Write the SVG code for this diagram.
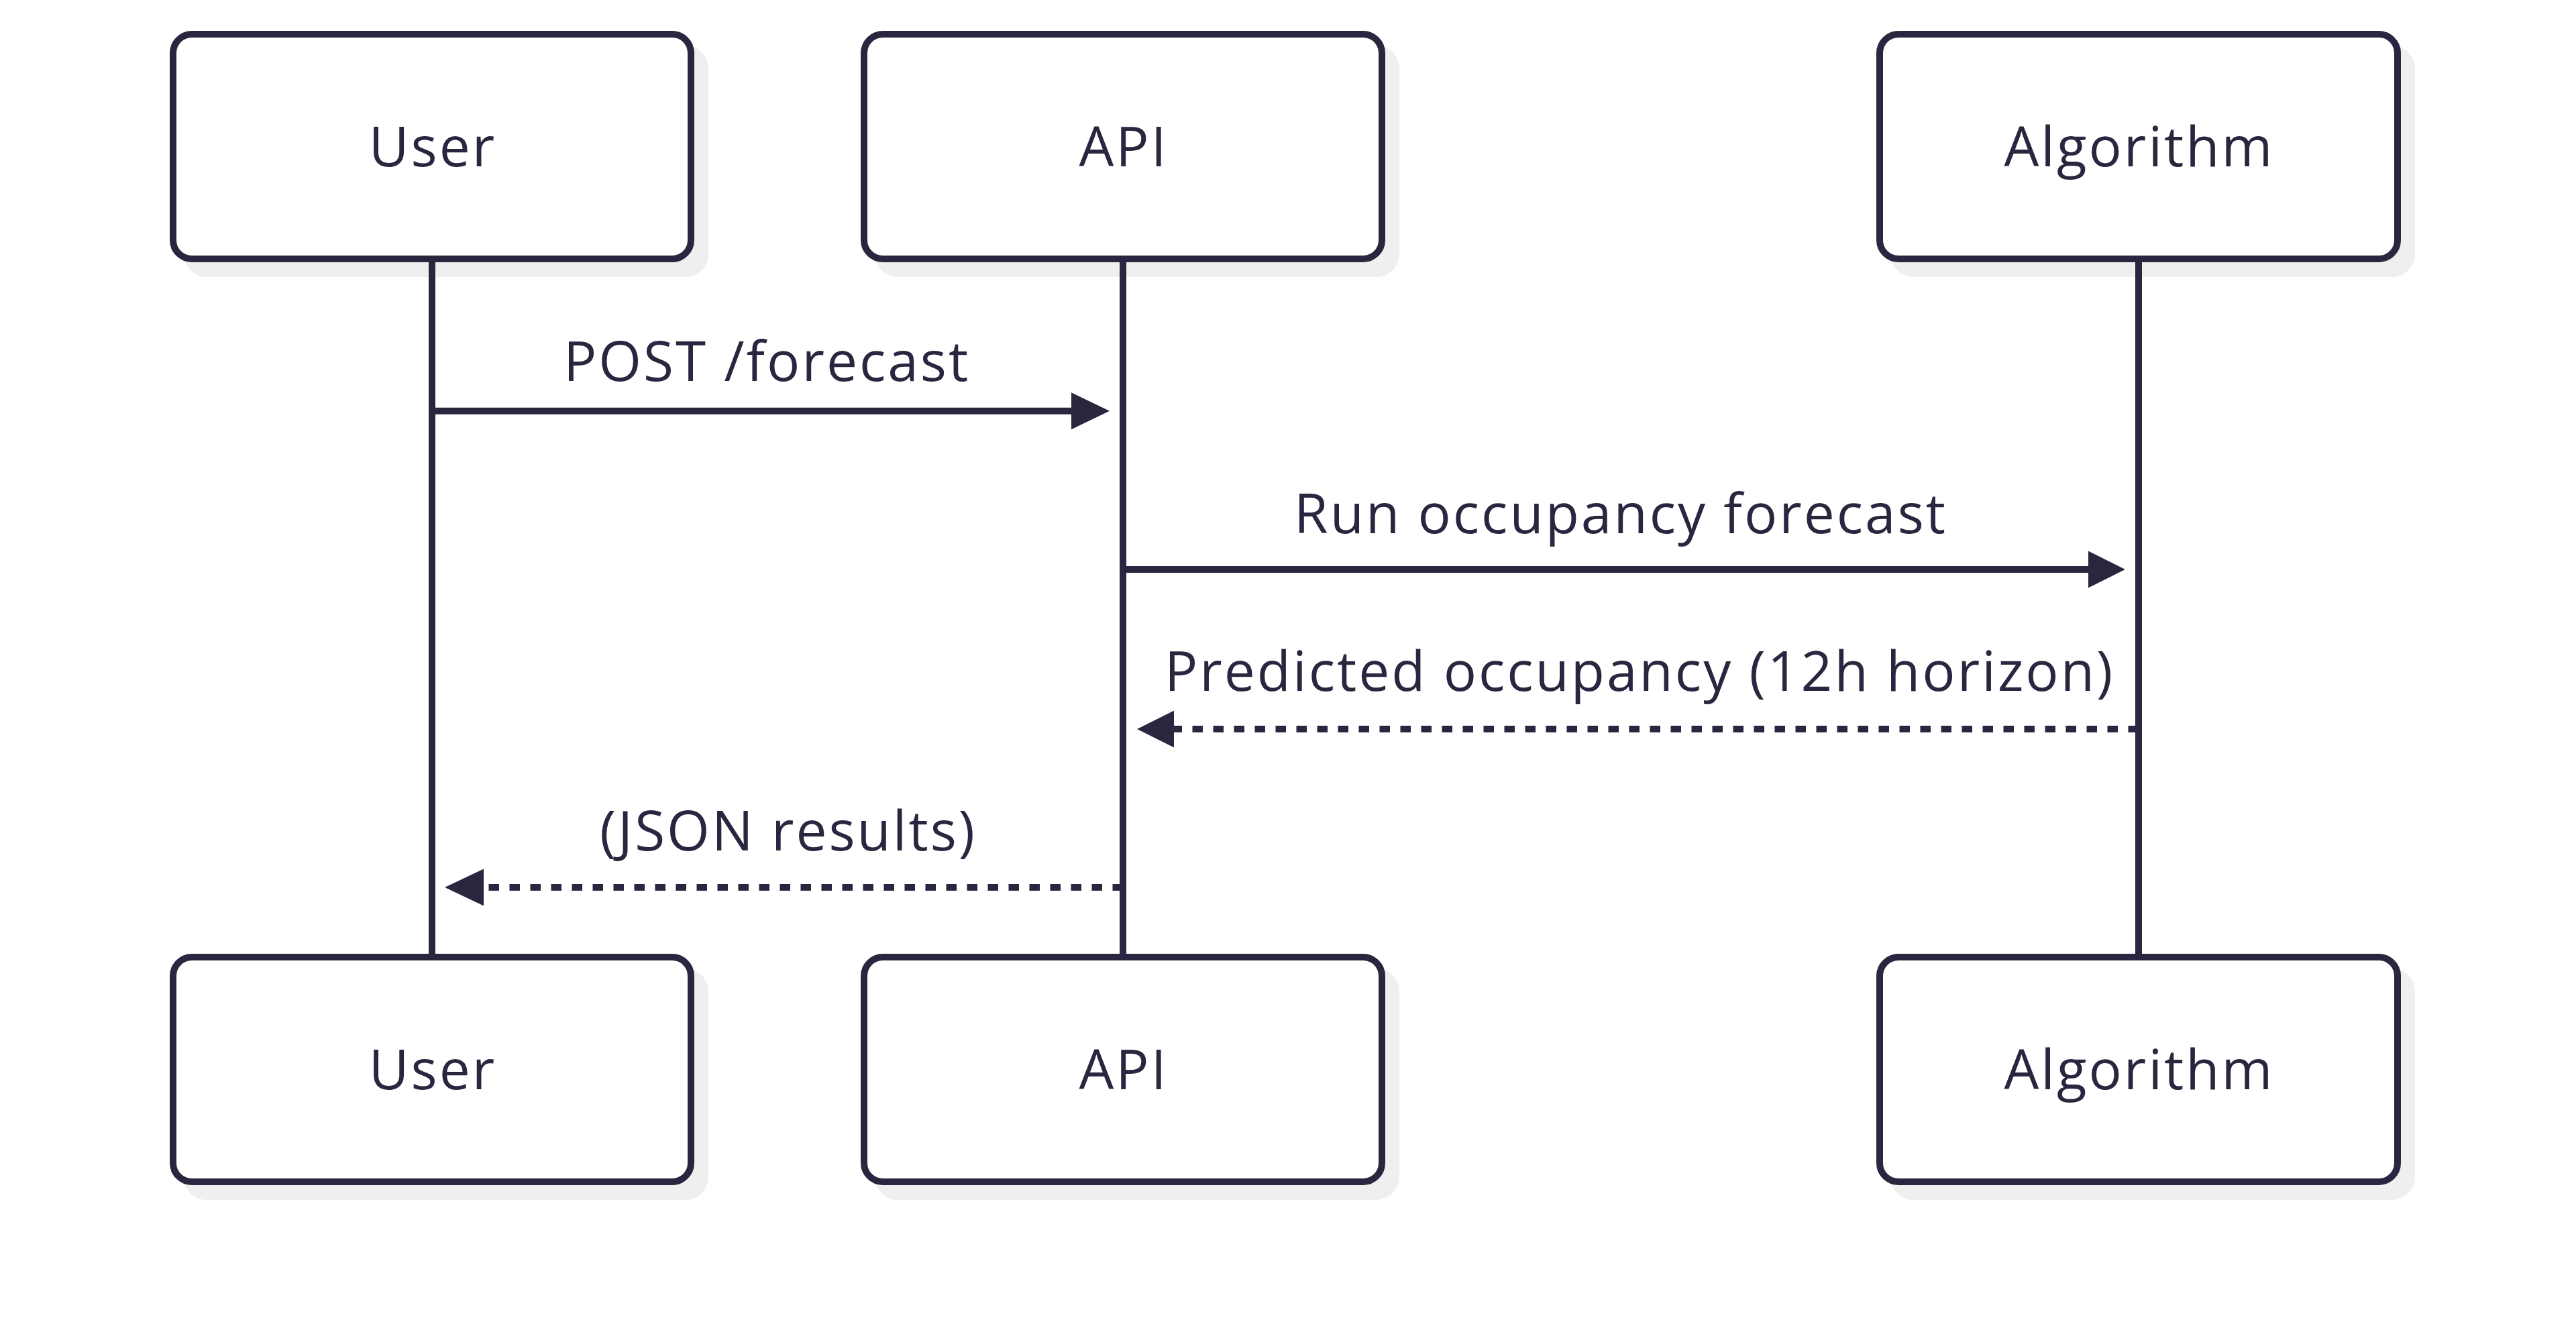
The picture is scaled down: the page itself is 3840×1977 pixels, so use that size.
<svg xmlns="http://www.w3.org/2000/svg" width="3840" height="1977" viewBox="0 0 3840 1977">
<style>
.shadow{fill:#efefef;stroke:none}
.box{fill:#ffffff;stroke:#28273f;stroke-width:10}
.life{stroke:#28273f;stroke-width:10;fill:none}
.msg{stroke:#28273f;stroke-width:10;fill:none}
.dot{stroke-dasharray:15.5 15.5}
.head{fill:#28273f;stroke:none}
text{font-family:"Open Sans","DejaVu Sans",sans-serif;font-size:82px;letter-spacing:3px;fill:#28273f;text-anchor:middle}
</style>
<rect width="3840" height="1977" fill="#ffffff"/>
<g id="user-top">
<rect class="shadow" x="274" y="68" width="782" height="345" rx="34"/>
<rect class="box" x="258" y="51" width="772" height="335" rx="28"/>
<text x="645" y="248">User</text>
</g>
<g id="api-top">
<rect class="shadow" x="1304" y="68" width="782" height="345" rx="34"/>
<rect class="box" x="1288" y="51" width="772" height="335" rx="28"/>
<text x="1675" y="248">API</text>
</g>
<g id="algorithm-top">
<rect class="shadow" x="2818" y="68" width="782" height="345" rx="34"/>
<rect class="box" x="2802" y="51" width="772" height="335" rx="28"/>
<text x="3189" y="248">Algorithm</text>
</g>
<g id="user-bottom">
<rect class="shadow" x="274" y="1444" width="782" height="345" rx="34"/>
<rect class="box" x="258" y="1427" width="772" height="335" rx="28"/>
<text x="645" y="1624">User</text>
</g>
<g id="api-bottom">
<rect class="shadow" x="1304" y="1444" width="782" height="345" rx="34"/>
<rect class="box" x="1288" y="1427" width="772" height="335" rx="28"/>
<text x="1675" y="1624">API</text>
</g>
<g id="algorithm-bottom">
<rect class="shadow" x="2818" y="1444" width="782" height="345" rx="34"/>
<rect class="box" x="2802" y="1427" width="772" height="335" rx="28"/>
<text x="3189" y="1624">Algorithm</text>
</g>
<g id="lifelines">
<line class="life" x1="644" y1="391" x2="644" y2="1422"/>
<line class="life" x1="1674" y1="391" x2="1674" y2="1422"/>
<line class="life" x1="3188" y1="391" x2="3188" y2="1422"/>
</g>
<g id="connectors">
<line class="msg" x1="644" y1="612.7" x2="1599" y2="612.7"/>
<polygon class="head" points="1597,585.2 1654,612.7 1597,640.2"/>
<text x="1143" y="568">POST /forecast</text>
<line class="msg" x1="1674" y1="849" x2="3115" y2="849"/>
<polygon class="head" points="3113,821.5 3168,849 3113,876.5"/>
<text x="2416" y="795">Run occupancy forecast</text>
<line class="msg dot" x1="3188" y1="1087" x2="1748" y2="1087"/>
<polygon class="head" points="1750,1059.5 1695,1087 1750,1114.5"/>
<text x="2444" y="1030">Predicted occupancy (12h horizon)</text>
<line class="msg dot" x1="1674" y1="1323" x2="720" y2="1323"/>
<polygon class="head" points="721,1295.5 663,1323 721,1350.5"/>
<text x="1175" y="1268">(JSON results)</text>
</g>
</svg>
